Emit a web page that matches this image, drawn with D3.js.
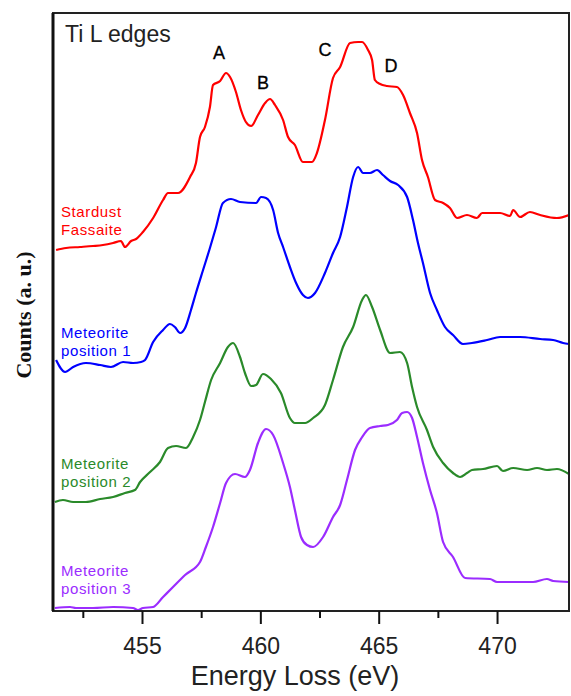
<!DOCTYPE html>
<html>
<head>
<meta charset="utf-8">
<script src="https://cdn.jsdelivr.net/npm/d3@7"></script>
<style>
  body { margin: 0; background: #fff; }
  svg { display: block; }
</style>
</head>
<body>
<script>
'use strict';
// Ti L-edge EELS spectra, energy loss (eV) vs counts (a.u., stacked with offsets)
const stardustE = [451.37, 451.79, 452.38, 452.93, 453.35, 453.78, 454.11, 454.28, 454.54, 454.75, 455.04, 455.47, 455.89, 456.10, 456.52, 457.03, 457.28, 457.45, 457.66, 457.87, 458.00, 458.30, 458.55, 458.72, 458.97, 459.18, 459.39, 459.61, 459.90, 460.20, 460.41, 460.62, 460.96, 461.17, 461.46, 461.80, 462.18, 462.39, 462.73, 463.07, 463.37, 463.79, 464.13, 464.30, 464.55, 464.72, 464.84, 465.06, 465.35, 465.77, 466.03, 466.32, 466.62, 466.83, 467.08, 467.38, 467.72, 468.01, 468.31, 468.73, 469.15, 469.37, 470.13, 470.55, 470.68, 470.97, 471.39, 471.82, 472.53, 473.04];
const stardustCounts = [361, 363, 364, 365, 366, 368, 370, 364, 370, 372, 379, 393, 411, 418, 418, 434, 448, 474, 484, 504, 526, 530, 538, 534, 519, 501, 489, 485, 496, 508, 512, 506, 491, 474, 466, 449, 449, 458, 491, 533, 544, 568, 569, 569, 561, 551, 531, 527, 525, 524, 516, 498, 478, 451, 434, 411, 408, 403, 393, 396, 393, 398, 398, 395, 401, 394, 399, 396, 393, 396];

const met1E = [451.37, 451.75, 452.09, 452.63, 453.23, 453.69, 454.20, 454.62, 454.96, 455.13, 455.47, 455.89, 456.18, 456.39, 456.61, 456.82, 457.07, 457.28, 457.58, 457.87, 458.13, 458.42, 458.76, 459.14, 459.82, 460.03, 460.24, 460.54, 460.75, 460.96, 461.25, 461.51, 461.80, 462.01, 462.31, 462.73, 463.07, 463.37, 463.66, 463.92, 464.13, 464.34, 464.63, 464.93, 465.18, 465.48, 465.82, 466.20, 466.45, 466.66, 466.87, 467.17, 467.46, 467.80, 468.14, 468.56, 468.94, 469.58, 470.13, 470.97, 471.82, 472.37, 472.79, 473.04];
const met1Counts = [251, 239, 244, 248, 246, 244, 249, 248, 249, 251, 269, 281, 287, 284, 278, 283, 301, 318, 341, 363, 384, 408, 412, 409, 408, 414, 413, 401, 378, 364, 344, 328, 316, 313, 318, 338, 358, 374, 404, 434, 444, 438, 438, 441, 436, 430, 426, 414, 391, 368, 348, 318, 301, 284, 276, 267, 268, 271, 274, 274, 272, 271, 268, 267];

const met2E = [451.32, 451.66, 452.09, 452.63, 453.23, 453.78, 454.28, 454.70, 454.92, 455.34, 455.76, 456.10, 456.44, 456.86, 457.16, 457.45, 457.66, 457.92, 458.30, 458.63, 458.85, 459.14, 459.35, 459.61, 459.82, 460.11, 460.45, 460.87, 461.25, 461.46, 461.89, 462.23, 462.73, 463.07, 463.49, 463.92, 464.30, 464.46, 464.72, 465.06, 465.48, 465.90, 466.20, 466.41, 466.62, 467.04, 467.30, 467.72, 468.14, 468.44, 468.73, 468.94, 469.41, 470.00, 470.25, 470.68, 471.27, 471.69, 472.11, 472.53, 473.04];
const met2Counts = [109, 111, 109, 109, 112, 114, 118, 121, 129, 139, 149, 163, 165, 163, 174, 191, 209, 231, 248, 264, 268, 254, 238, 225, 226, 237, 232, 218, 193, 188, 188, 193, 206, 231, 264, 284, 311, 316, 304, 281, 258, 259, 248, 224, 204, 181, 164, 148, 138, 134, 138, 141, 142, 145, 140, 143, 141, 143, 141, 142, 137];

const met3E = [451.32, 451.96, 452.21, 452.93, 453.78, 454.62, 454.83, 455.04, 455.47, 455.89, 456.31, 456.82, 457.45, 457.70, 458.00, 458.30, 458.55, 458.93, 459.35, 459.56, 459.90, 460.24, 460.54, 460.96, 461.25, 461.46, 461.72, 461.97, 462.23, 462.65, 463.07, 463.37, 463.66, 464.00, 464.30, 464.63, 465.06, 465.39, 465.77, 465.99, 466.20, 466.41, 466.62, 466.87, 467.17, 467.46, 467.72, 468.14, 468.65, 469.70, 470.00, 470.84, 471.52, 472.11, 472.37, 473.04];
const met3Counts = [3, 4, 3, 3, 4, 3, 1, 3, 4, 14, 24, 36, 49, 64, 84, 108, 128, 137, 134, 141, 168, 182, 176, 148, 124, 101, 74, 66, 64, 74, 94, 106, 131, 161, 174, 183, 185, 186, 191, 198, 199, 193, 174, 148, 121, 98, 69, 54, 33, 32, 29, 29, 29, 32, 30, 29];

const majorTicks = [455, 460, 465, 470];
const minorTicks = [452.5, 457.5, 462.5, 467.5];

const seriesNames = [["Stardust", "Fassaite"], ["Meteorite", "position 1"], ["Meteorite", "position 2"], ["Meteorite", "position 3"]];
const seriesColors = ["#ff0000", "#0000ff", "#2a8a2a", "#9b2cff"];
const peakNames = ["A", "B", "C", "D"];
const peakE = [458.25, 460.11, 462.73, 465.52];
const peakY = [552, 522, 555, 539];

const width = 571, height = 696;
const margin = { left: 53, right: 2, top: 13, bottom: 85 };

const svg = d3.select("body").append("svg")
  .attr("width", width)
  .attr("height", height);

const x = d3.scaleLinear()
  .domain([451.24, 473.04])
  .range([margin.left, width - margin.right]);
const y = d3.scaleLinear()
  .domain([0, 598])
  .range([height - margin.bottom, margin.top]);

svg.append("clipPath").attr("id", "plotclip")
  .append("rect")
  .attr("x", margin.left).attr("y", margin.top)
  .attr("width", width - margin.left - margin.right)
  .attr("height", height - margin.top - margin.bottom);

const series = [
  { e: stardustE, c: stardustCounts },
  { e: met1E, c: met1Counts },
  { e: met2E, c: met2Counts },
  { e: met3E, c: met3Counts }
];

const line = d3.line()
  .curve(d3.curveMonotoneX)
  .x(d => x(d[0]))
  .y(d => y(d[1]));

series.forEach((s, i) => {
  svg.append("path")
    .datum(s.e.map((v, k) => [v, s.c[k]]))
    .attr("clip-path", "url(#plotclip)")
    .attr("fill", "none")
    .attr("stroke", seriesColors[i])
    .attr("stroke-width", 2.2)
    .attr("stroke-linejoin", "round")
    .attr("d", line);
});

// frame
svg.append("rect")
  .attr("x", margin.left).attr("y", margin.top)
  .attr("width", width - margin.left - margin.right)
  .attr("height", height - margin.top - margin.bottom)
  .attr("fill", "none")
  .attr("stroke", "#222")
  .attr("stroke-width", 2);
svg.append("line")
  .attr("x1", margin.left).attr("x2", margin.left)
  .attr("y1", margin.top).attr("y2", height - margin.bottom)
  .attr("stroke", "#111")
  .attr("stroke-width", 3);

const xAxis = d3.axisBottom(x).tickValues(majorTicks).tickSize(13).tickSizeOuter(0).tickPadding(14);
const gx = svg.append("g")
  .attr("transform", "translate(0," + (height - margin.bottom) + ")")
  .call(xAxis);
gx.select(".domain").remove();
gx.selectAll("line").attr("stroke", "#111").attr("stroke-width", 2);
gx.selectAll("text")
  .style("font-family", "'Liberation Sans', Arial, sans-serif")
  .style("font-size", "23px")
  .attr("fill", "#222");

const gxm = svg.append("g")
  .attr("transform", "translate(0," + (height - margin.bottom) + ")")
  .call(d3.axisBottom(x).tickValues(minorTicks).tickSize(7).tickFormat(""));
gxm.select(".domain").remove();
gxm.selectAll("line").attr("stroke", "#111").attr("stroke-width", 2);

svg.append("text")
  .attr("x", 295).attr("y", 685)
  .attr("text-anchor", "middle")
  .style("font-family", "'Liberation Sans', Arial, sans-serif")
  .style("font-size", "27px")
  .attr("fill", "#222")
  .text("Energy Loss (eV)");

svg.append("text")
  .attr("transform", "translate(31,315)rotate(-90)")
  .attr("text-anchor", "middle")
  .style("font-family", "'Liberation Serif', 'Times New Roman', serif")
  .style("font-weight", "bold")
  .style("font-size", "22px")
  .attr("fill", "#111")
  .text("Counts (a. u.)");

svg.append("text")
  .attr("x", 65).attr("y", 42)
  .style("font-family", "'Liberation Sans', Arial, sans-serif")
  .style("font-size", "23px")
  .attr("fill", "#222")
  .text("Ti L edges");

// peak labels placed at their energies
svg.selectAll(".peak")
  .data(peakNames)
  .enter()
  .append("text")
  .attr("class", "peak")
  .attr("x", (d, i) => x(peakE[i]))
  .attr("y", (d, i) => y(peakY[i]))
  .attr("text-anchor", "middle")
  .style("font-family", "'Liberation Sans', Arial, sans-serif")
  .style("font-size", "18px")
  .style("stroke", "#000")
  .style("stroke-width", "0.3px")
  .attr("fill", "#000")
  .text(d => d);

const labelBase = [217, 338, 469, 576];
seriesNames.forEach((names, i) => {
  names.forEach((t, j) => {
    svg.append("text")
      .attr("x", 61)
      .attr("y", labelBase[i] + j * 18)
      .style("font-family", "'Liberation Sans', Arial, sans-serif")
      .style("font-size", "15px")
      .style("letter-spacing", "0.6px")
      .attr("fill", seriesColors[i])
      .text(t);
  });
});
</script>
</body>
</html>
